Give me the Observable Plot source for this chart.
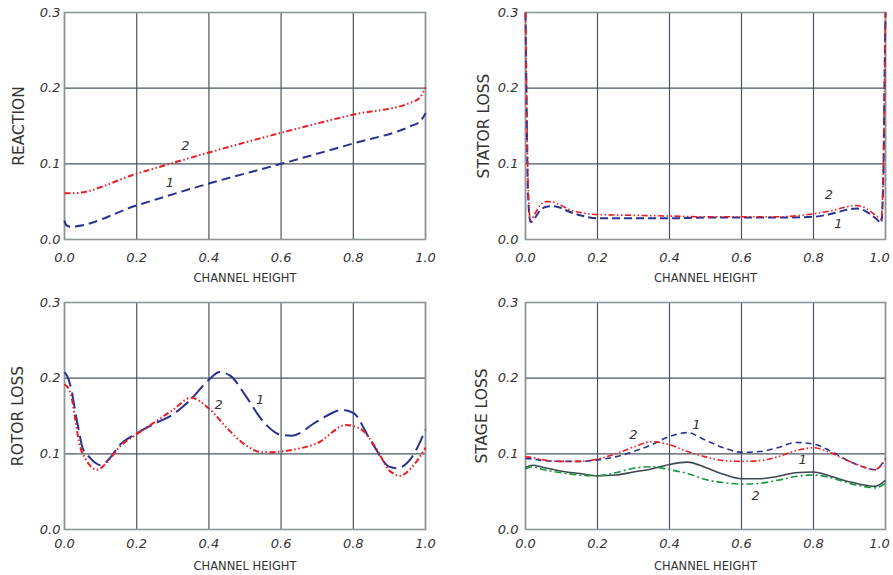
<!DOCTYPE html>
<html>
<head>
<meta charset="utf-8">
<script src="https://cdn.jsdelivr.net/npm/d3@7"></script>
<script src="https://cdn.jsdelivr.net/npm/@observablehq/plot@0.6"></script>
<style>
  html, body { margin: 0; padding: 0; background: #fff; }
  #wrap { position: relative; width: 893px; height: 575px; overflow: hidden; }
  .panel { position: absolute; }
</style>
</head>
<body>
<div id="wrap"></div>
<script>
// ---------- shared ticks ----------
const xTicks = [0, 0.2, 0.4, 0.6, 0.8, 1.0];
const yTicks = [0, 0.1, 0.2, 0.3];
const xAxisLabel = "CHANNEL HEIGHT";

// ---------- REACTION ----------
const reactX1 = [0, 0.005, 0.015, 0.2, 0.4, 0.6, 0.8, 0.96, 0.985, 1.0];
const reactY1 = [0.025, 0.019, 0.017, 0.045, 0.074, 0.1, 0.127, 0.15, 0.156, 0.167];
const reactX2 = [0, 0.02, 0.2, 0.4, 0.6, 0.8, 0.96, 0.985, 1.0];
const reactY2 = [0.061, 0.061, 0.087, 0.115, 0.141, 0.165, 0.181, 0.188, 0.201];
const reactLabelX = [0.335, 0.292];
const reactLabelY = [0.124, 0.0755];
const reactLabelT = ["2", "1"];

// ---------- STATOR LOSS ----------
const statX = [0, 0.003, 0.006, 0.01, 0.014, 0.025, 0.04, 0.055, 0.07, 0.09, 0.12, 0.16, 0.2, 0.3, 0.4, 0.5, 0.6, 0.7, 0.8, 0.85, 0.9, 0.92, 0.95, 0.975, 0.988, 0.994, 0.997, 1.0];
const statY1 = [0.3, 0.18, 0.08, 0.035, 0.023, 0.028, 0.038, 0.043, 0.044, 0.043, 0.037, 0.031, 0.028, 0.028, 0.028, 0.029, 0.029, 0.029, 0.030, 0.034, 0.040, 0.041, 0.036, 0.027, 0.022, 0.08, 0.2, 0.3];
const statY2 = [0.3, 0.2, 0.1, 0.04, 0.026, 0.033, 0.045, 0.05, 0.05, 0.047, 0.04, 0.035, 0.033, 0.032, 0.031, 0.03, 0.03, 0.03, 0.034, 0.038, 0.044, 0.045, 0.04, 0.031, 0.027, 0.1, 0.2, 0.3];
const statLabelX = [0.843, 0.869];
const statLabelY = [0.059, 0.021];
const statLabelT = ["2", "1"];

// ---------- ROTOR LOSS ----------
const rotX1 = [0, 0.01, 0.02, 0.03, 0.04, 0.05, 0.07, 0.1, 0.13, 0.15, 0.2, 0.25, 0.3, 0.35, 0.4, 0.43, 0.46, 0.5, 0.55, 0.6, 0.63, 0.7, 0.77, 0.8, 0.85, 0.9, 0.92, 0.96, 1.0];
const rotY1 = [0.208, 0.2, 0.183, 0.155, 0.13, 0.108, 0.095, 0.085, 0.097, 0.11, 0.127, 0.14, 0.152, 0.172, 0.198, 0.208, 0.203, 0.178, 0.143, 0.125, 0.124, 0.143, 0.158, 0.154, 0.116, 0.083, 0.081, 0.094, 0.132];
const rotX2 = [0, 0.01, 0.02, 0.03, 0.04, 0.06, 0.09, 0.12, 0.15, 0.2, 0.25, 0.3, 0.35, 0.4, 0.45, 0.5, 0.55, 0.6, 0.65, 0.7, 0.78, 0.82, 0.86, 0.9, 0.93, 0.96, 1.0];
const rotY2 = [0.192, 0.187, 0.174, 0.145, 0.116, 0.092, 0.079, 0.09, 0.108, 0.126, 0.142, 0.158, 0.174, 0.16, 0.134, 0.112, 0.102, 0.103, 0.107, 0.114, 0.138, 0.133, 0.11, 0.078, 0.071, 0.081, 0.108];
const rotLabelX = [0.542, 0.427];
const rotLabelY = [0.172, 0.165];
const rotLabelT = ["1", "2"];

// ---------- STAGE LOSS ----------
const stageX = [0, 0.02, 0.05, 0.1, 0.15, 0.2, 0.25, 0.3, 0.35, 0.4, 0.45, 0.5, 0.55, 0.6, 0.65, 0.7, 0.75, 0.8, 0.85, 0.9, 0.95, 0.97, 1.0];
const stageBlue  = [0.094, 0.093, 0.091, 0.09, 0.09, 0.092, 0.096, 0.103, 0.112, 0.123, 0.128, 0.118, 0.108, 0.102, 0.103, 0.108, 0.115, 0.113, 0.103, 0.09, 0.081, 0.079, 0.094];
const stageRed   = [0.096, 0.095, 0.092, 0.09, 0.09, 0.093, 0.1, 0.109, 0.116, 0.112, 0.103, 0.096, 0.091, 0.09, 0.091, 0.096, 0.104, 0.108, 0.101, 0.09, 0.081, 0.079, 0.092];
const stageGray  = [0.082, 0.085, 0.082, 0.077, 0.074, 0.071, 0.072, 0.076, 0.08, 0.086, 0.089, 0.082, 0.073, 0.067, 0.067, 0.07, 0.075, 0.076, 0.07, 0.063, 0.058, 0.057, 0.065];
const stageGreen = [0.08, 0.083, 0.079, 0.075, 0.072, 0.071, 0.075, 0.081, 0.083, 0.079, 0.074, 0.066, 0.062, 0.06, 0.061, 0.065, 0.07, 0.072, 0.068, 0.061, 0.056, 0.055, 0.061];
const stageLabelX = [0.475, 0.30, 0.77, 0.639];
const stageLabelY = [0.138, 0.125, 0.092, 0.045];
const stageLabelT = ["1", "2", "1", "2"];

// ---------- styles ----------
const BLUE = "#2b3190", RED = "#ec1c24", GREEN = "#1a9641", GRAY = "#3d4850";
const GRID = "#4a5660", FRAME = "#8d9599", TXT = "#333";
const FONT = "DejaVu Sans, Verdana, sans-serif";

function line(xs, ys, stroke, dash, width = 2) {
  return Plot.line(xs.map((_, i) => i), {
    x: i => xs[i], y: i => ys[i], stroke, strokeWidth: width,
    strokeDasharray: dash, curve: "monotone-x", strokeLinecap: "butt"
  });
}

function panel(cfg) {
  const axisOpts = { tickSize: 0, tickPadding: cfg.xpad, fontStyle: "italic", fontSize: 13, fill: TXT, tickFormat: d => d.toFixed(1), label: null };
  const p = Plot.plot({
    width: cfg.w, height: cfg.h,
    marginLeft: cfg.ml, marginRight: cfg.mr, marginTop: cfg.mt, marginBottom: cfg.mb,
    style: { fontFamily: FONT, background: "white", overflow: "visible" },
    x: { domain: [0, 1] },
    y: { domain: [0, 0.3] },
    marks: [
      Plot.gridX(xTicks, { stroke: GRID, strokeOpacity: 1, strokeWidth: 1.2 }),
      Plot.gridY(yTicks, { stroke: GRID, strokeOpacity: 1, strokeWidth: 1.2 }),
      Plot.frame({ stroke: FRAME, strokeWidth: 1.6 }),
      Plot.axisX(xTicks.slice(0, -1), axisOpts),
      Plot.axisX(xTicks.slice(-1), { ...axisOpts, dx: cfg.lastDx }),
      Plot.axisY(yTicks, { tickSize: 0, tickPadding: cfg.ypad, fontStyle: "italic", fontSize: 13, fill: TXT, tickFormat: d => d.toFixed(1), label: null }),
      ...cfg.lines,
      Plot.text(cfg.lx.map((_, i) => i), { x: i => cfg.lx[i], y: i => cfg.ly[i], text: i => cfg.lt[i], fontStyle: "italic", fontSize: 13, fill: TXT }),
      Plot.text([xAxisLabel], { text: d => d, frameAnchor: "bottom", dy: cfg.xlab, lineAnchor: "middle", textAnchor: "middle", fontSize: 11.5, fill: TXT }),
      Plot.text([cfg.ylabel], { text: d => d, frameAnchor: "left", dx: cfg.ylab, rotate: -90, textAnchor: "middle", lineAnchor: "middle", fontSize: 15.5, fill: TXT })
    ]
  });
  const div = document.createElement("div");
  div.className = "panel";
  div.style.left = cfg.left + "px";
  div.style.top = cfg.top + "px";
  div.appendChild(p);
  document.getElementById("wrap").appendChild(div);
}

panel({
  left: 0, top: 0, w: 446, h: 287, ml: 64, mr: 21, mt: 12, mb: 48, xpad: 13, ypad: 4, xlab: 39, ylab: -45, lastDx: 0,
  ylabel: "REACTION", lx: reactLabelX, ly: reactLabelY, lt: reactLabelT,
  lines: [line(reactX1, reactY1, BLUE, "9,5"), line(reactX2, reactY2, RED, "6,2.5,1.5,2.5,1.5,2.5")]
});

panel({
  left: 446, top: 0, w: 447, h: 287, ml: 79, mr: 8, mt: 12, mb: 48, xpad: 13, ypad: 7, xlab: 39, ylab: -41, lastDx: -6,
  ylabel: "STATOR LOSS", lx: statLabelX, ly: statLabelY, lt: statLabelT,
  lines: [line(statX, statY1, BLUE, "8,4"), line(statX, statY2, RED, "6,2.5,1.5,2.5,1.5,2.5", 1.6)]
});

panel({
  left: 0, top: 287, w: 446, h: 288, ml: 64, mr: 21, mt: 15, mb: 46, xpad: 9, ypad: 4, xlab: 37, ylab: -46, lastDx: 0,
  ylabel: "ROTOR LOSS", lx: rotLabelX, ly: rotLabelY, lt: rotLabelT,
  lines: [line(rotX1, rotY1, BLUE, "16,6"), line(rotX2, rotY2, RED, "6,2.5,1.5,2.5,1.5,2.5")]
});

panel({
  left: 446, top: 287, w: 447, h: 288, ml: 79, mr: 8, mt: 15, mb: 46, xpad: 9, ypad: 7, xlab: 37, ylab: -43, lastDx: -6,
  ylabel: "STAGE LOSS", lx: stageLabelX, ly: stageLabelY, lt: stageLabelT,
  lines: [
    line(stageX, stageGray, GRAY, null, 1.6),
    line(stageX, stageGreen, GREEN, "7,3,2,3", 1.6),
    line(stageX, stageBlue, BLUE, "6,4", 1.6),
    line(stageX, stageRed, RED, "6,2.5,1.5,2.5,1.5,2.5", 1.6)
  ]
});
</script>
</body>
</html>
